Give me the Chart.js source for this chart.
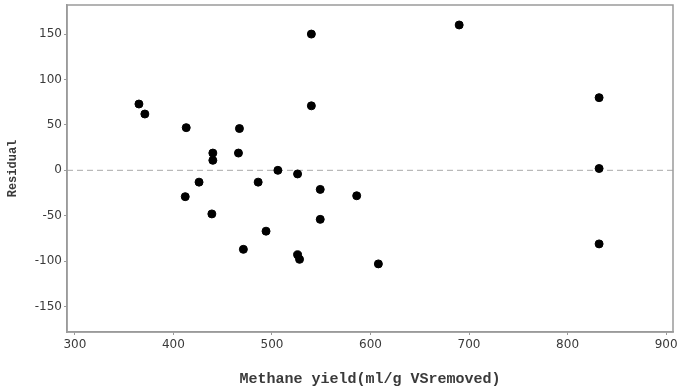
<!DOCTYPE html>
<html>
<head>
<meta charset="utf-8">
<script src="https://cdn.jsdelivr.net/npm/chart.js@4"></script>
<style>
  html, body { margin: 0; padding: 0; background: #fff; }
  #wrap { width: 678px; height: 387px; position: relative; }
</style>
</head>
<body>
<div id="wrap"><canvas id="residualChart"></canvas></div>
<script>
// methane yield (x) and residual (y)
const yieldValues = [365, 371, 413, 467, 540, 540, 440, 440, 466, 506, 526, 426, 486, 549,
  586, 412, 439, 549, 494, 471, 526, 528, 608, 690, 832, 832, 832];
const residualValues = [73, 62, 47, 46, 150, 71, 19, 11, 19, 0, -4, -13, -13, -21,
  -28, -29, -48, -54, -67, -87, -93, -98, -103, 160, 80, 2, -81];
const xTicks = [300, 400, 500, 600, 700, 800, 900];
const yTicks = [-150, -100, -50, 0, 50, 100, 150];

const axisColor = '#9a9a9a';
const textColor = '#3a3a3a';

// frame round the plot and dashed zero line
const framePlugin = {
  id: 'frame',
  beforeDatasetsDraw(chart) {
    const { ctx, chartArea: a, scales } = chart;
    ctx.save();
    const y0 = scales.y.getPixelForValue(0);
    ctx.strokeStyle = '#aaa';
    ctx.lineWidth = 1;
    ctx.setLineDash([6, 4]);
    ctx.beginPath();
    ctx.moveTo(a.left, y0);
    ctx.lineTo(a.right, y0);
    ctx.stroke();
    ctx.restore();
  },
  afterDatasetsDraw(chart) {
    const { ctx, chartArea: a } = chart;
    ctx.save();
    ctx.strokeStyle = axisColor;
    ctx.lineWidth = 1.5;
    ctx.strokeRect(a.left, a.top, a.right - a.left, a.bottom - a.top);
    ctx.restore();
  }
};

const ctx = document.getElementById('residualChart').getContext('2d');
new Chart(ctx, {
  type: 'scatter',
  data: {
    datasets: [{
      label: 'Residual',
      data: yieldValues.map((x, i) => ({ x: x, y: residualValues[i] })),
      backgroundColor: '#000',
      borderColor: '#000',
      pointRadius: 4,
      pointHoverRadius: 4
    }]
  },
  options: {
    responsive: true,
    maintainAspectRatio: false,
    animation: false,
    layout: { padding: { top: 0, right: 5, left: 0, bottom: 0 } },
    plugins: {
      legend: { display: false },
      tooltip: { enabled: false }
    },
    scales: {
      x: {
        type: 'linear',
        min: 292,
        max: 907,
        afterBuildTicks: s => { s.ticks = xTicks.map(v => ({ value: v })); },
        afterFit: s => { s.height = 55; s.paddingLeft = 0; s.paddingRight = 0; },
        border: { color: axisColor, width: 1.5 },
        grid: { drawOnChartArea: false, drawTicks: true, tickLength: 3, color: axisColor },
        ticks: {
          color: textColor,
          padding: 3,
          font: { family: 'DejaVu Sans', size: 12 }
        },
        title: {
          display: true,
          text: 'Methane yield(ml/g VSremoved)',
          color: textColor,
          padding: { top: 16, bottom: -1 },
          font: { family: 'Liberation Mono', size: 15, weight: 'bold' }
        }
      },
      y: {
        type: 'linear',
        min: -178,
        max: 182,
        afterBuildTicks: s => { s.ticks = yTicks.map(v => ({ value: v })); },
        afterFit: s => { s.width = 67; s.paddingTop = 0; s.paddingBottom = 0; },
        border: { color: axisColor, width: 1.5 },
        grid: { drawOnChartArea: false, drawTicks: true, tickLength: 3, color: axisColor },
        ticks: {
          color: textColor,
          padding: 2,
          font: { family: 'DejaVu Sans', size: 12 }
        },
        title: {
          display: true,
          text: 'Residual',
          color: textColor,
          padding: { top: 6, bottom: 0 },
          font: { family: 'Liberation Mono', size: 12, weight: 'bold' }
        }
      }
    }
  },
  plugins: [framePlugin]
});
</script>
</body>
</html>
